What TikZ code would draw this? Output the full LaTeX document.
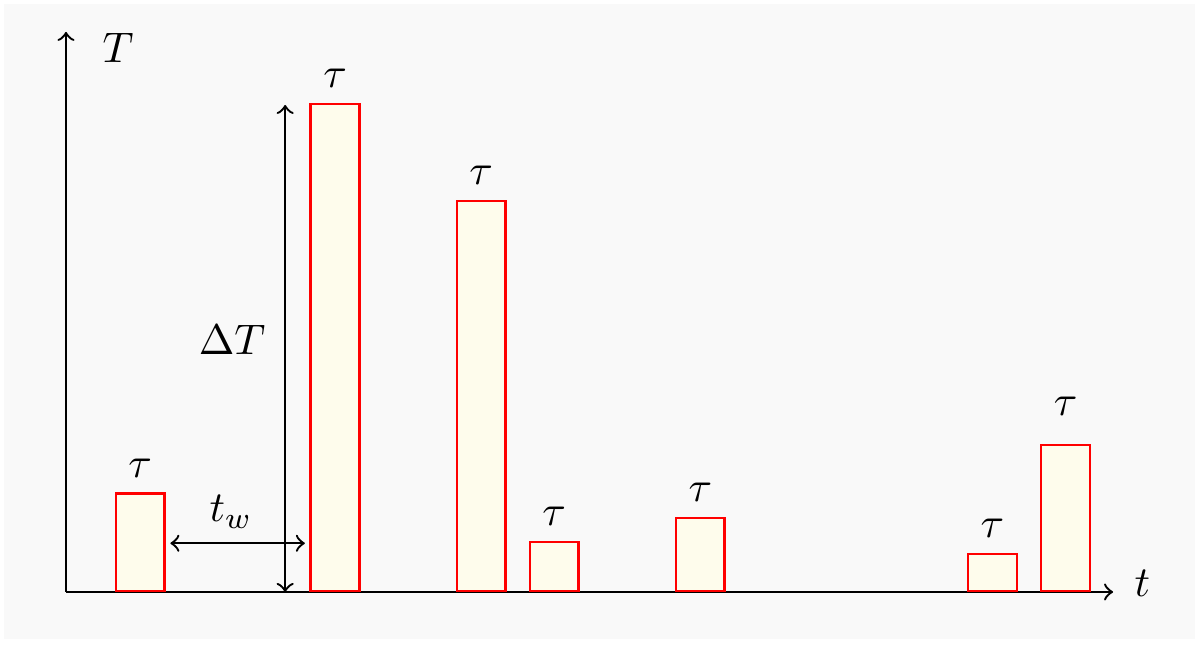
\documentclass[tikz,border=0pt]{standalone}
\usetikzlibrary{calc}
\definecolor{bgray}{RGB}{249,249,249}
\definecolor{cream}{RGB}{254,252,236}
\tikzset{
  axis/.style={line width=0.55pt,->,>=to},
  bar/.style={draw=red,fill=cream,line width=0.55pt,anchor=south west,inner sep=0pt,minimum width=0.4cm},
  dim/.style={line width=0.55pt,<->,>=to},
  lab/.style={above}
}
\begin{document}
\begin{tikzpicture}[x=0.2cm,y=0.2cm]
\useasboundingbox (-2.71,-2.18) rectangle (46.57,24.31);
\fill[bgray] (-2.55,-1.93) rectangle (46.37,24.15);
\coordinate (O) at (0,0);
\coordinate (xend) at (43,0);
\coordinate (yend) at (0,23);
\draw[axis] (O) -- (xend);
\draw[axis] (O) -- (yend);
\node (lT) at (2.14,22.34) {$T$};
\node (lt) at (44.2,0.37) {$t$};
\node[bar,minimum height=0.8cm] (b1) at (2,0) {};
\node[bar,minimum height=4cm] (b2) at (10,0) {};
\node[bar,minimum height=3.2cm] (b3) at (16,0) {};
\node[bar,minimum height=0.4cm] (b4) at (19,0) {};
\node[bar,minimum height=0.6cm] (b5) at (25,0) {};
\node[bar,minimum height=0.3cm] (b6) at (37,0) {};
\node[bar,minimum height=1.2cm] (b7) at (40,0) {};
\foreach \b in {b1,b2,b3,b4,b5,b6}{
  \node[lab] (tau\b) at (\b.north) {$\tau$};
}
\node[lab,yshift=3pt] (taub7) at (b7.north) {$\tau$};
\coordinate (dTb) at (9,0);
\coordinate (dTt) at (9,20);
\draw[dim] (dTb) -- (dTt);
\node (ldT) at (6.82,10.35) {$\Delta T$};
\coordinate (twa) at ($(b1.south east)+(0.19,2)$);
\coordinate (twb) at ($(b2.south west)+(-0.19,2)$);
\draw[dim] (twa) -- (twb);
\node (ltw) at (6.78,3.29) {$t_w$};
\end{tikzpicture}
\end{document}
